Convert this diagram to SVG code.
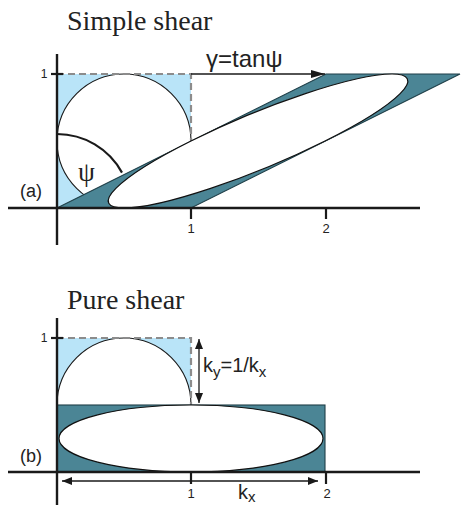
<svg xmlns="http://www.w3.org/2000/svg" width="463" height="505" viewBox="0 0 463 505">
<style>
.title{font-family:"Liberation Serif",serif;font-size:28px;fill:#222}
.lbl{font-family:"Liberation Sans",Arial,sans-serif;fill:#222}
.axis{stroke:#1a1a1a;stroke-width:2.4;fill:none}
.tick{stroke:#1a1a1a;stroke-width:2.2;fill:none}
.blue{fill:#b9e4f8;stroke:none}
.dash{stroke:#8c8c8c;stroke-width:2.2;stroke-dasharray:7,4;fill:none}
.circ{fill:#fff;stroke:#1a1a1a;stroke-width:1.1}
.teal{fill:#4b8595;stroke:#1f3f48;stroke-width:1.1}
.ell{fill:#fff;stroke:#111;stroke-width:1.2}
.thin{stroke:#1a1a1a;stroke-width:1.3;fill:none}
</style>
<defs>
<marker id="ah" viewBox="0 0 10 8" refX="10" refY="4" markerWidth="10" markerHeight="8" markerUnits="userSpaceOnUse" orient="auto-start-reverse">
<path d="M0,0 L10,4 L0,8 Z" fill="#1a1a1a"/>
</marker>
<marker id="ah2" viewBox="0 0 14 8" refX="14" refY="4" markerWidth="14" markerHeight="8" markerUnits="userSpaceOnUse" orient="auto">
<path d="M0,0 L14,4 L0,8 Z" fill="#1a1a1a"/>
</marker>
</defs>

<g id="panel-a">
<text class="title" x="67" y="30">Simple shear</text>
<g id="a-square">
<rect class="blue" x="57" y="74" width="134" height="134"/>
<circle class="circ" cx="124" cy="141" r="67"/>
<path class="dash" d="M57,74 H191 V160"/>
</g>
<g id="a-parallelogram">
<polygon class="teal" points="57,208 191,208 460,74 326,74"/>
<circle class="ell" cx="0.5" cy="0.5" r="0.5" vector-effect="non-scaling-stroke" transform="matrix(134,0,268,-134,57,208)"/>
</g>
<g id="a-angle">
<path d="M57,134 A74,74 0 0 1 122,172.6" fill="none" stroke="#1a1a1a" stroke-width="2.2"/>
<text x="78" y="181" font-family="Liberation Serif,serif" font-size="27" fill="#222">ψ</text>
</g>
<g id="a-axes">
<line class="axis" x1="8" y1="208" x2="420" y2="208"/>
<line class="axis" x1="57" y1="54" x2="57" y2="245"/>
<line class="tick" x1="51" y1="74" x2="63" y2="74"/>
<line class="tick" x1="191" y1="208" x2="191" y2="219"/>
<line class="tick" x1="326" y1="208" x2="326" y2="219"/>
<text class="lbl" x="44" y="78" font-size="12" text-anchor="middle">1</text>
<text class="lbl" x="191" y="233" font-size="13" text-anchor="middle">1</text>
<text class="lbl" x="326" y="233" font-size="13" text-anchor="middle">2</text>
<text class="lbl" x="20" y="197" font-size="18">(a)</text>
</g>
<g id="connectors-a">
<line x1="191" y1="74" x2="325" y2="74" stroke="#1a1a1a" stroke-width="1.6" marker-end="url(#ah2)"/>
<text class="lbl" x="206" y="67" font-size="24">γ=tanψ</text>
</g>
</g>

<g id="panel-b">
<text class="title" x="67" y="309">Pure shear</text>
<g id="b-square">
<rect class="blue" x="57" y="338" width="134" height="134"/>
<circle class="circ" cx="124" cy="405" r="67"/>
<path class="dash" d="M57,338 H191 V410"/>
</g>
<g id="b-rect">
<rect class="teal" x="57" y="405" width="268" height="67"/>
<ellipse class="ell" cx="191" cy="438.5" rx="132" ry="33.5"/>
</g>
<g id="b-axes">
<line class="axis" x1="8" y1="472" x2="420" y2="472"/>
<line class="axis" x1="57" y1="318" x2="57" y2="505"/>
<line class="tick" x1="51" y1="338" x2="63" y2="338"/>
<line class="tick" x1="191" y1="472" x2="191" y2="484"/>
<line class="tick" x1="326" y1="472" x2="326" y2="484"/>
<text class="lbl" x="44" y="342" font-size="12" text-anchor="middle">1</text>
<text class="lbl" x="191" y="498" font-size="13" text-anchor="middle">1</text>
<text class="lbl" x="327" y="498" font-size="13" text-anchor="middle">2</text>
<text class="lbl" x="20" y="462" font-size="18">(b)</text>
</g>
<g id="connectors-b">
<line class="thin" x1="199" y1="339" x2="199" y2="403" marker-start="url(#ah)" marker-end="url(#ah)"/>
<line class="thin" x1="62" y1="481" x2="318" y2="481" marker-start="url(#ah)" marker-end="url(#ah)"/>
<text class="lbl" x="203" y="372" font-size="20">k<tspan font-size="15" dy="5">y</tspan><tspan dy="-5">=1/k</tspan><tspan font-size="15" dy="5">x</tspan></text>
<text class="lbl" x="238" y="499" font-size="20">k<tspan font-size="15" dy="3">x</tspan></text>
</g>
</g>
</svg>
